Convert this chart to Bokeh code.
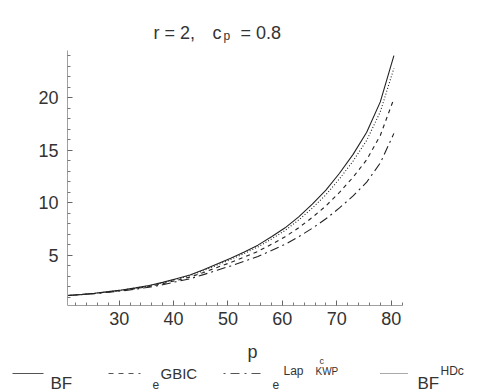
from bokeh.plotting import figure
from bokeh.models import Range1d, FixedTicker, Label, Arrow
from bokeh.embed import file_html
from bokeh.resources import INLINE

# ---- data ----
p_vals = [20.5, 23, 25.5, 28, 30.5, 33, 35.5, 38, 40.5, 43, 45.5, 48, 50.5,
          53, 55.5, 58, 60.5, 63, 65.5, 68, 70.5, 73, 75.5, 78, 80.5]
bf = [1.15, 1.25, 1.37, 1.52, 1.68, 1.88, 2.10, 2.40, 2.75, 3.10, 3.60, 4.15, 4.70,
      5.30, 5.95, 6.75, 7.60, 8.65, 9.85, 11.2, 12.8, 14.6, 16.7, 19.6, 24.0]
bf_hdc = [1.15, 1.25, 1.36, 1.51, 1.67, 1.86, 2.07, 2.36, 2.70, 3.04, 3.52, 4.05, 4.58,
          5.16, 5.78, 6.54, 7.35, 8.35, 9.48, 10.75, 12.27, 13.96, 15.93, 18.66, 22.8]
e_gbic = [1.15, 1.24, 1.35, 1.49, 1.63, 1.81, 2.01, 2.28, 2.59, 2.90, 3.34, 3.83, 4.30,
          4.81, 5.36, 6.03, 6.74, 7.61, 8.59, 9.69, 10.98, 12.42, 14.09, 16.40, 19.9]
e_lap = [1.15, 1.23, 1.33, 1.46, 1.59, 1.76, 1.94, 2.18, 2.47, 2.74, 3.14, 3.56, 3.97,
         4.41, 4.87, 5.44, 6.03, 6.75, 7.56, 8.46, 9.50, 10.64, 11.96, 13.78, 16.6]

x_major = [30, 40, 50, 60, 70, 80]
x_minor = [22, 24, 26, 28, 32, 34, 36, 38, 42, 44, 46, 48, 52, 54, 56, 58,
           62, 64, 66, 68, 72, 74, 76, 78, 82]
y_major = [5, 10, 15, 20]
y_minor = [1, 2, 3, 4, 6, 7, 8, 9, 11, 12, 13, 14, 16, 17, 18, 19, 21, 22, 23, 24]
x_axis_span = (20.5, 82.1)
y_axis_span = (0.2, 24.5)

FONT = "Liberation Sans"
TXT = "#333333"

p = figure(width=486, height=392, x_range=Range1d(8.184, 97.522),
           y_range=Range1d(-8.09, 29.26), toolbar_location=None, output_backend="svg",
           min_border=0, outline_line_color=None, title=None)
p.grid.visible = False
p.xaxis.fixed_location = y_axis_span[0]
p.yaxis.fixed_location = x_axis_span[0]
p.xaxis.bounds = x_axis_span
p.yaxis.bounds = y_axis_span
p.xaxis.ticker = FixedTicker(ticks=x_major, minor_ticks=x_minor)
p.yaxis.ticker = FixedTicker(ticks=y_major, minor_ticks=y_minor)
for ax in (p.xaxis, p.yaxis):
    ax.axis_line_color = "#a0a0a0"
    ax.major_tick_line_color = "#666666"
    ax.minor_tick_line_color = "#777777"
    ax.major_tick_in = 5
    ax.major_tick_out = 0
    ax.minor_tick_in = 3
    ax.minor_tick_out = 0
    ax.major_label_text_font = FONT
    ax.major_label_text_font_size = "18px"
    ax.major_label_text_color = TXT
p.xaxis.major_label_standoff = 7
p.yaxis.major_label_standoff = 9

p.line(p_vals, bf, line_color="#222222", line_width=1.1)
p.line(p_vals, bf_hdc, line_color="#222222", line_width=1.1, line_dash="1 2")
p.line(p_vals, e_gbic, line_color="#222222", line_width=1.1, line_dash="4 4")
p.line(p_vals, e_lap, line_color="#222222", line_width=1.1, line_dash="9 4 2 4")


def lab(x, y, text, size, align="left"):
    p.add_layout(Label(x=x, y=y, x_units="screen", y_units="screen", text=text,
                       text_font=FONT, text_font_size=size, text_color=TXT,
                       text_baseline="alphabetic", text_align=align))


def seg(x0, x1, y, dash):
    p.add_layout(Arrow(x_start=x0, y_start=y, x_end=x1, y_end=y, start_units="screen",
                       end_units="screen", start=None, end=None, line_color="#555555",
                       line_width=1.1, line_dash=dash))


# title  r = 2,  c_p = 0.8
lab(153, 360, "r = 2,", "18px")
lab(212, 360, "c", "18px")
lab(223, 357, "p", "12px")
lab(240, 360, "= 0.8", "18px")

# x axis label
lab(252, 41, "p", "18px", "center")

# legend
seg(12, 43, 19, "solid")
seg(108, 140, 19, "5 5")
seg(223, 262, 19, "2 5 9 5")
seg(380, 407, 19, "1 1")
lab(50, 9, "BF", "17px")
lab(152, 8, "e", "12px")
lab(160, 19, "GBIC", "15px")
lab(272, 8, "e", "12px")
lab(283, 22, "Lap", "12px")
lab(315, 21, "KWP", "10px")
lab(319, 32, "c", "9px")
lab(417, 9, "BF", "17px")
lab(440, 22, "HDc", "12px")

open("out.html", "w").write(file_html(p, INLINE))
